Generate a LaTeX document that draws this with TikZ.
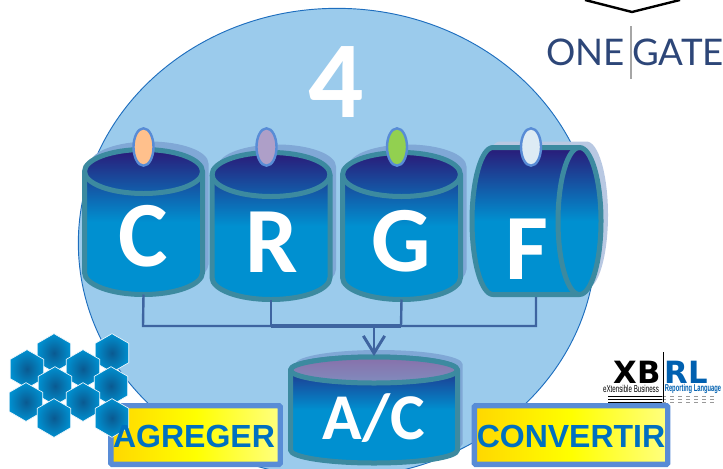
\documentclass[tikz,border=0pt]{standalone}
\usepackage{fontspec}
\usepackage{xcolor}
\setmainfont{Carlito}
\newfontfamily\arialfont{Liberation Sans}
\newfontfamily\logofont{Lato}
\newfontfamily\heavyfont{DejaVu Sans}
\definecolor{disc_blue}{RGB}{0,144,208}
\definecolor{disc_navy}{RGB}{42,26,120}
\definecolor{disc_rim}{RGB}{60,138,160}
\definecolor{disc_shadow}{RGB}{128,168,214}
\definecolor{roll_shadow}{RGB}{184,200,226}
\definecolor{sky_fill}{RGB}{155,203,236}
\definecolor{sky_line}{RGB}{30,110,190}
\definecolor{tag_line}{RGB}{88,140,214}
\definecolor{tag_text}{RGB}{0,112,192}
\definecolor{tag_gold}{RGB}{255,215,0}
\definecolor{tag_pale}{RGB}{255,255,128}
\definecolor{link_blue}{RGB}{62,100,160}
\definecolor{logo_navy}{RGB}{45,70,120}
\definecolor{xbrl_blue}{RGB}{0,96,176}
\definecolor{hex_core}{RGB}{10,90,145}
\usetikzlibrary{shapes.geometric,arrows.meta,positioning}
\tikzset{
	rim/.style = {draw=disc_rim, line width=3.75pt, line join=round},
	discbody/.style = {rim, top color=disc_navy, bottom color=disc_blue, middle color=disc_blue},
	plug/.style = {ellipse, draw=tag_line, line width=1.8pt, minimum width=15pt, minimum height=28pt, inner sep=0},
	letter/.style = {text=white, font=\bfseries\fontsize{70}{70}\selectfont, inner sep=0},
	tagbox/.style = {draw=tag_line, line width=4pt, rounded corners=0.8pt, left color=tag_gold, right color=tag_pale, middle color=yellow, inner sep=0},
	tagtext/.style = {text=tag_text, font=\arialfont\bfseries\fontsize{24}{24}\selectfont, inner sep=0},
	hexcell/.style = {regular polygon, regular polygon sides=6, shape border rotate=30, minimum size=29pt, inner sep=0, draw=white!85!sky_fill, line width=0.5pt, inner color=hex_core, outer color=disc_blue},
	link/.style = {draw=link_blue, line width=1.8pt},
	logotext/.style = {text=logo_navy, font=\logofont\fontsize{27.5}{27.5}\selectfont, inner sep=0}
}
\begin{document}
\begin{tikzpicture}[x=0.75pt,y=-0.75pt]
\useasboundingbox (0,0) rectangle (723,468);

\node[ellipse, draw=sky_line, line width=0.7pt, fill=sky_fill, minimum width=388pt, minimum height=352pt, inner sep=0] (round) at (337,243) {};
\coordinate (peakl) at (585,0);
\coordinate (peakm) at (632,12);
\coordinate (peakr) at (680,0);
\draw[black, line width=1.8pt] (peakl) -- (peakm) -- (peakr);

% the three upright discs
\foreach \nm/\cx/\ty/\by in {c/143.5/171.5/272.5, r/271/174.5/277.5, g/401.5/174.5/277.5}{
	\fill[disc_shadow] ({\cx+6-59},{\ty-8}) arc[start angle=180, end angle=360, x radius=59, y radius=22] -- ({\cx+6+59},{\by-8}) arc[start angle=0, end angle=180, x radius=59, y radius=22] -- cycle;
	\path[discbody] ({\cx-59},\ty) arc[start angle=180, end angle=360, x radius=59, y radius=22] -- ({\cx+59},\by) arc[start angle=0, end angle=180, x radius=59, y radius=22] -- cycle;
	\draw[rim] ({\cx-59},\ty) arc[start angle=180, end angle=0, x radius=59, y radius=22];
	\coordinate (cyl\nm) at (\cx,{\by+22});
}

% the lying disc
\fill[roll_shadow] (500,141.5) -- (586.5,141.5) arc[start angle=-90, end angle=90, x radius=21.5, y radius=73.5] -- (500,288.5) arc[start angle=90, end angle=270, x radius=21, y radius=73.5] -- cycle;
\path[discbody] (493,147.5) -- (579.5,147.5) arc[start angle=-90, end angle=90, x radius=21.5, y radius=73.5] -- (493,294.5) arc[start angle=90, end angle=270, x radius=21, y radius=73.5] -- cycle;
\draw[rim] (579.5,147.5) arc[start angle=-90, end angle=-270, x radius=21.5, y radius=73.5];
\coordinate (cylf) at (536,297);

\node[plug, fill={rgb,255:red,255;green,192;blue,140}] (plugc) at (143.5,147) {};
\node[plug, fill={rgb,255:red,174;green,159;blue,200}] (plugr) at (266.5,147) {};
\node[plug, fill={rgb,255:red,146;green,208;blue,80}] (plugg) at (397,147) {};
\node[plug, fill={rgb,255:red,221;green,235;blue,244}] (plugf) at (531,147) {};

\node[letter] (txtc) at (143.5,236) {C};
\node[letter] (txtr) at (272,242) {R};
\node[letter] (txtg) at (401,241) {G};
\node[letter] (txtf) at (527,249) {F};
\node[letter, font=\bfseries\fontsize{82}{82}\selectfont] (four) at (336,82) {4};

% links down to the common disc
\coordinate (busc) at (143,326);
\coordinate (busr) at (271,326);
\coordinate (busg) at (401,326);
\coordinate (busf) at (536,326);
\coordinate (busa) at (374,326);
\draw[link] (cylc) -- (busc) -- (busf) -- (cylf);
\draw[link] (cylr) -- (busr);
\draw[link] (cylg) -- (busg);
\draw[link, line width=2.4pt] (busr) -- (busg);

% the common disc
\fill[disc_shadow] (295.5,364) arc[start angle=180, end angle=360, x radius=83.5, y radius=14] -- (462.5,444) arc[start angle=0, end angle=180, x radius=83.5, y radius=13] -- cycle;
\path[discbody] (290.5,370) arc[start angle=180, end angle=360, x radius=83.5, y radius=13] -- (457.5,450) arc[start angle=0, end angle=180, x radius=83.5, y radius=13] -- cycle;
\path[rim, top color={rgb,255:red,136;green,112;blue,170}, bottom color={rgb,255:red,128;green,140;blue,190}] (290.5,370) arc[start angle=180, end angle=-180, x radius=83.5, y radius=13];
\coordinate (cyla) at (374,356);
\draw[link, line width=2.2pt, -{Straight Barb[length=13pt,width=16pt]}] (busa) -- (cyla);
\node[letter, font=\bfseries\fontsize{49}{49}\selectfont] (txta) at (374,418) {A/C};

% tags and cells
\node[tagbox, minimum width=127pt, minimum height=44pt] (boxa) at (195.5,435) {};
\node[tagbox, minimum width=145pt, minimum height=44pt] (boxb) at (571,435) {};
\foreach \hx/\hy [count=\i] in {54/353,112/353,27/369,83/369,55/386,111/386,26/402,83/402,54/418,112/418}
	\node[hexcell] (hex\i) at (\hx,\hy) {};
\node[tagtext] (agreger) at (194,436) {AGREGER};
\node[tagtext] (convertir) at (571,436) {CONVERTIR};

% logos
\node[logotext] (one) at (585.5,52) {ONE};
\node[logotext] (gate) at (678,52) {GATE};
\coordinate (bart) at (631,26);
\coordinate (barb) at (631,79);
\draw[black!35, line width=1pt] (bart) -- (barb);

\node[font=\heavyfont\bfseries\fontsize{23}{23}\selectfont, inner sep=0] (xb) at (637,372) {XB};
\node[text=xbrl_blue, font=\heavyfont\bfseries\fontsize{23}{23}\selectfont, inner sep=0] (rl) at (686,372) {RL};
\node[xscale=0.62, font=\arialfont\fontsize{7.5}{7.5}\selectfont, inner sep=0] (ext) at (631,389) {eXtensible Business};
\node[xscale=0.58, text=xbrl_blue, font=\arialfont\bfseries\fontsize{7.5}{7.5}\selectfont, inner sep=0] (rep) at (693,389) {Reporting Language};
\foreach \ly in {396,399,402}{
	\coordinate (la\ly) at (608,\ly);
	\coordinate (lb\ly) at (662,\ly);
	\coordinate (lc\ly) at (714,\ly);
	\draw[black, line width=0.5pt] (la\ly) -- (lb\ly);
	\draw[black!40, line width=0.5pt, dashed] (lb\ly) -- (lc\ly);
}
\coordinate (polet) at (663,352);
\coordinate (poleb) at (663,402);
\draw[black, line width=0.4pt] (polet) -- (poleb);

\end{tikzpicture}
\end{document}
